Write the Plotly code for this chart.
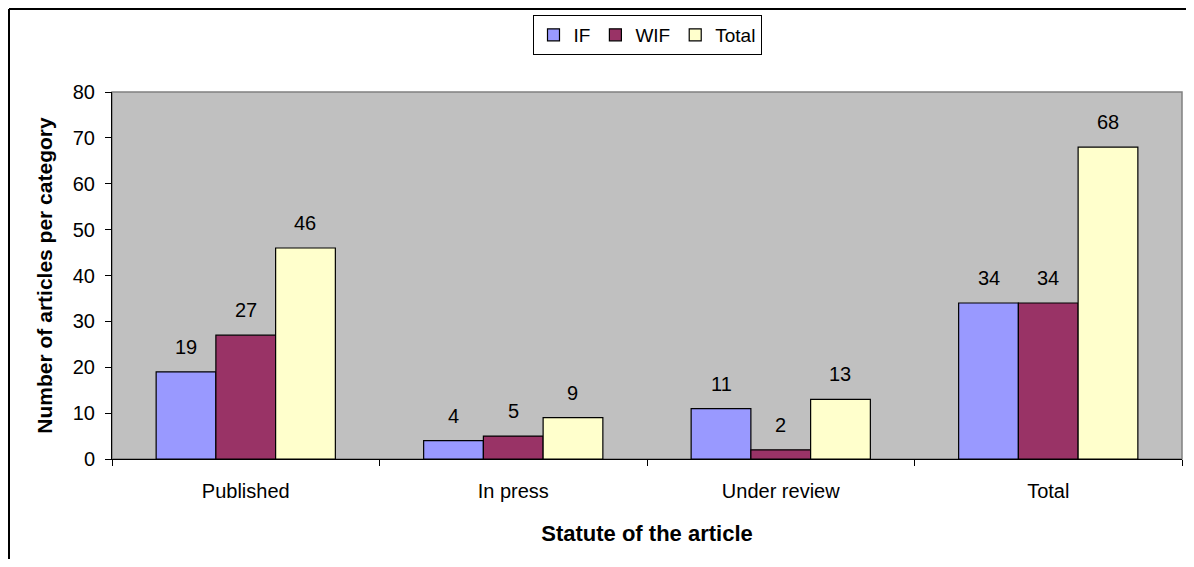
import plotly.graph_objs as go

categories = ['Published', 'In press', 'Under review', 'Total']
if_vals = [19, 4, 11, 34]
wif_vals = [27, 5, 2, 34]
total_vals = [46, 9, 13, 68]

font_name = 'Liberation Sans, Arial, sans-serif'

# figure sized to fit inside the page body (8px default margin), no scrollbars
W, H = 1178, 551
ml, mr, mt, mb = 104, 4, 84, 100
bargap = 0.33
plot_w = W - ml - mr
plot_h = H - mt - mb
bar_px = plot_w / len(categories) * (1 - bargap) / 3

series = [('IF', if_vals, '#9999FF'), ('WIF', wif_vals, '#993366'), ('Total', total_vals, '#FFFFCC')]

fig = go.Figure()
annots = []
for k, (name, vals, color) in enumerate(series):
    fig.add_trace(go.Bar(x=categories, y=vals, name=name, marker_color=color,
                         marker_line_color='black', marker_line_width=1.2))
    for c, v in zip(categories, vals):
        annots.append(dict(x=c, y=v, text=str(v), showarrow=False, yanchor='bottom',
                           xshift=(k - 1) * bar_px, yshift=12,
                           font=dict(size=20, color='black', family=font_name)))

ox = -(ml - 1) / plot_w
oy = 1 + (mt - 1) / plot_h

fig.update_layout(
    width=W, height=H,
    margin=dict(l=ml, r=mr, t=mt, b=mb),
    barmode='group', bargap=bargap, bargroupgap=0,
    plot_bgcolor='#C0C0C0', paper_bgcolor='white',
    font=dict(family=font_name, size=20, color='black'),
    showlegend=True,
    legend=dict(orientation='h', x=0.5, xanchor='center', y=1 + (mt - 7) / plot_h, yanchor='top',
                bordercolor='black', borderwidth=1, font=dict(size=19),
                itemwidth=30, tracegroupgap=0),
    xaxis=dict(showline=True, linecolor='black', linewidth=1,
               ticks='outside', tickson='boundaries', ticklen=6, tickcolor='black',
               ticklabelstandoff=14,
               title=dict(text='<b>Statute of the article</b>', font=dict(size=22), standoff=24)),
    yaxis=dict(range=[0, 80], dtick=10, showgrid=False, zeroline=False,
               showline=True, linecolor='black', linewidth=1,
               ticks='outside', ticklen=6, tickcolor='black', ticklabelstandoff=6,
               title=dict(text='<b>Number of articles per category</b>', font=dict(size=21), standoff=14)),
    annotations=annots,
    shapes=[
        dict(type='rect', xref='paper', yref='paper', x0=0, x1=1, y0=0, y1=1,
             line=dict(color='#808080', width=1.5), layer='below'),
        dict(type='line', xref='paper', yref='paper', x0=ox, x1=1.05, y0=oy, y1=oy,
             line=dict(color='black', width=2)),
        dict(type='line', xref='paper', yref='paper', x0=ox, x1=ox, y0=oy, y1=-0.5,
             line=dict(color='black', width=2)),
    ],
)

fig.write_html('out.html')
